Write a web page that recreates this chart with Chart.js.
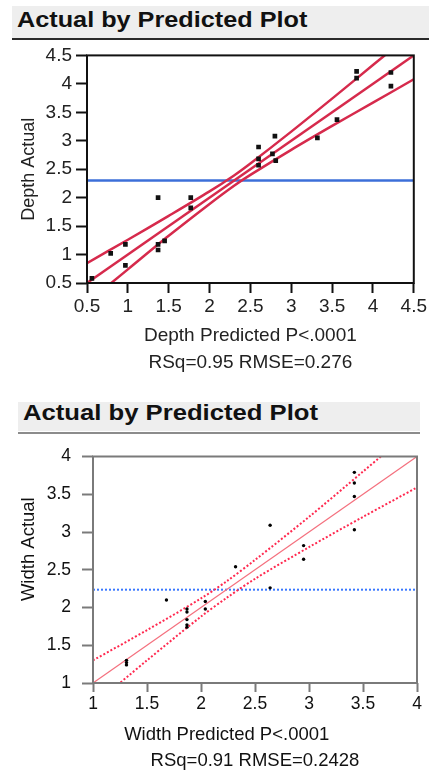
<!DOCTYPE html>
<html><head><meta charset="utf-8">
<script src="https://cdn.jsdelivr.net/npm/chart.js@4"></script>
<style>
html,body{margin:0;padding:0;background:#fff;width:429px;height:771px;overflow:hidden;position:relative;}
.bar{position:absolute;background:#eeeeee;}
.rule{position:absolute;}
.ttl{position:absolute;font-family:"Liberation Sans",Arial,sans-serif;font-weight:bold;color:#111;white-space:nowrap;transform-origin:0 50%;}
canvas{position:absolute;left:0;}
</style></head><body>
<div class="bar" style="left:12px;top:6px;width:417px;height:32px"></div>
<div class="rule" style="left:12px;top:38px;width:417px;height:2px;background:#2a2a2a"></div>
<div class="ttl" style="left:17px;top:9.8px;font-size:21.5px;line-height:21.5px;transform:scaleX(1.174)">Actual by Predicted Plot</div>
<canvas id="c1" width="429" height="345" style="top:40px"></canvas>

<div class="bar" style="left:18px;top:402px;width:402px;height:29px"></div>
<div class="rule" style="left:18px;top:432px;width:402px;height:2px;background:#8c8c8c"></div>
<div class="ttl" style="left:23px;top:402.4px;font-size:22px;line-height:22px;transform:scaleX(1.166)">Actual by Predicted Plot</div>
<canvas id="c2" width="429" height="339" style="top:435px"></canvas>

<script>
// ---------- Chart 1: Depth ----------
const depthPredicted = [0.56, 0.79, 0.97, 0.97, 1.37, 1.37, 1.37, 1.45, 1.77, 1.77, 2.60, 2.60, 2.60, 2.77, 2.80, 2.81, 3.32, 3.56, 3.80, 3.80, 4.22, 4.22];
const depthActual    = [0.58, 1.02, 1.18, 0.81, 2.00, 1.18, 1.08, 1.24, 2.00, 1.82, 2.89, 2.68, 2.57, 2.77, 3.08, 2.65, 3.05, 3.37, 4.22, 4.10, 4.20, 3.96];
const depthFitX = [0.5, 4.5];
const depthFitY = [0.5, 4.5];
const depthBandX = [0.5, 1, 1.5, 2, 2.3, 2.5, 3, 3.5, 4, 4.5];
const depthUpper = [0.85, 1.26, 1.68, 2.11, 2.39, 2.60, 3.16, 3.74, 4.33, 4.92];
const depthLower = [0.15, 0.74, 1.33, 1.89, 2.21, 2.40, 2.84, 3.26, 3.67, 4.08];
const depthMean = 2.30;
const depthTicks = ['0.5', '1', '1.5', '2', '2.5', '3', '3.5', '4', '4.5'];

// ---------- Chart 2: Width ----------
const widthPredicted = [1.31, 1.31, 1.31, 1.68, 1.87, 1.87, 1.87, 1.87, 1.87, 2.04, 2.04, 2.32, 2.64, 2.64, 2.95, 2.95, 3.42, 3.42, 3.42, 3.42];
const widthActual    = [1.30, 1.27, 1.24, 2.10, 1.98, 1.94, 1.84, 1.77, 1.74, 2.08, 1.98, 2.54, 3.09, 2.26, 2.82, 2.64, 3.79, 3.65, 3.47, 3.03];
const widthFitX = [1, 4];
const widthFitY = [1, 4];
const widthBandX = [1, 1.5, 2, 2.24, 2.5, 3, 3.5, 4];
const widthUpper = [1.30, 1.70, 2.12, 2.35, 2.63, 3.20, 3.80, 4.41];
const widthLower = [0.70, 1.30, 1.88, 2.13, 2.38, 2.80, 3.20, 3.59];
const widthMean = 2.236;
const widthTicks = ['1', '1.5', '2', '2.5', '3', '3.5', '4'];

const pts = (xs, ys) => xs.map((x, i) => ({x: x, y: ys[i]}));

const framePlugin = {
  id: 'frame',
  afterDraw(chart, args, opts) {
    const a = chart.chartArea, ctx = chart.ctx;
    ctx.save();
    ctx.strokeStyle = opts.color;
    ctx.lineWidth = opts.width;
    ctx.strokeRect(a.left, a.top, a.right - a.left, a.bottom - a.top);
    ctx.restore();
  }
};

function axis(cfg) {
  return {
    type: 'linear',
    min: cfg.min, max: cfg.max,
    afterFit: s => { if (cfg.w) s.width = cfg.w; if (cfg.h) s.height = cfg.h; },
    afterBuildTicks: s => { s.ticks = cfg.labels.map(v => ({value: parseFloat(v)})); },
    border: {display: false},
    grid: {drawOnChartArea: false, drawTicks: true, tickLength: cfg.tickLength, tickColor: cfg.color, tickWidth: 2},
    ticks: {
      autoSkip: false, maxRotation: 0, minRotation: 0,
      padding: cfg.pad, color: cfg.textColor,
      font: {family: '"Liberation Sans", Arial, sans-serif', size: cfg.fontSize},
      callback: v => cfg.labels.find(l => parseFloat(l) === v) || String(v)
    },
    title: {
      display: true, text: cfg.title, color: cfg.textColor,
      font: {family: '"Liberation Sans", Arial, sans-serif', size: cfg.titleSize, lineHeight: cfg.titleLH},
      padding: cfg.titlePad
    }
  };
}

new Chart(document.getElementById('c1'), {
  type: 'scatter',
  data: {
    datasets: [
      {data: pts(depthPredicted, depthActual), pointStyle: 'rect', pointRadius: 3.3, pointBackgroundColor: '#111', pointBorderWidth: 0, showLine: false, order: 0},
      {data: pts(depthFitX, depthFitY), showLine: true, borderColor: '#d62a4c', borderWidth: 2.5, pointRadius: 0, order: 2},
      {data: pts(depthBandX, depthUpper), showLine: true, borderColor: '#d62a4c', borderWidth: 2.5, pointRadius: 0, tension: 0.3, order: 2},
      {data: pts(depthBandX, depthLower), showLine: true, borderColor: '#d62a4c', borderWidth: 2.5, pointRadius: 0, tension: 0.3, order: 2},
      {data: pts(depthFitX, [depthMean, depthMean]), showLine: true, borderColor: '#3c6fd9', borderWidth: 2.5, pointRadius: 0, order: 3}
    ]
  },
  options: {
    responsive: false, animation: false, devicePixelRatio: 1,
    layout: {padding: {top: 12, right: 14, left: 0, bottom: 0}},
    plugins: {legend: {display: false}, tooltip: {enabled: false}, frame: {color: '#111', width: 2}},
    scales: {
      x: axis({min: 0.5, max: 4.5, labels: depthTicks, h: 102, tickLength: 10, pad: 2, color: '#111', textColor: '#222', fontSize: 19,
               title: ['Depth Predicted P<.0001', 'RSq=0.95 RMSE=0.276'], titleSize: 19, titleLH: 1.42, titlePad: {top: 0, bottom: 8.5}}),
      y: axis({min: 0.5, max: 4.5, labels: depthTicks, w: 87, tickLength: 11, pad: 4, color: '#111', textColor: '#222', fontSize: 19,
               title: 'Depth Actual', titleSize: 18, titleLH: 1.2, titlePad: {top: 18, bottom: 0}})
    }
  },
  plugins: [framePlugin]
});

new Chart(document.getElementById('c2'), {
  type: 'scatter',
  data: {
    datasets: [
      {data: pts(widthPredicted, widthActual), pointStyle: 'circle', pointRadius: 1.7, pointBackgroundColor: '#000', pointBorderWidth: 0, showLine: false, order: 0},
      {data: pts(widthFitX, widthFitY), showLine: true, borderColor: '#f4707e', borderWidth: 1.2, pointRadius: 0, order: 2},
      {data: pts(widthBandX, widthUpper), showLine: true, borderColor: '#ff2a50', borderWidth: 2, borderDash: [2, 2], pointRadius: 0, tension: 0.3, order: 2},
      {data: pts(widthBandX, widthLower), showLine: true, borderColor: '#ff2a50', borderWidth: 2, borderDash: [2, 2], pointRadius: 0, tension: 0.3, order: 2},
      {data: pts(widthFitX, [widthMean, widthMean]), showLine: true, borderColor: '#3a78ff', borderWidth: 2, borderDash: [2, 2], pointRadius: 0, order: 3}
    ]
  },
  options: {
    responsive: false, animation: false, devicePixelRatio: 1,
    layout: {padding: {top: 12, right: 12, left: 0, bottom: 0}},
    plugins: {legend: {display: false}, tooltip: {enabled: false}, frame: {color: '#7a7a7a', width: 2}},
    scales: {
      x: axis({min: 1, max: 4, labels: widthTicks, h: 91, tickLength: 9, pad: 2, color: '#7a7a7a', textColor: '#111', fontSize: 17.5,
               title: ['Width Predicted P<.0001           ', 'RSq=0.91 RMSE=0.2428'], titleSize: 18.5, titleLH: 1.4, titlePad: {top: 0, bottom: 0}}),
      y: axis({min: 1, max: 4, labels: widthTicks, w: 93, tickLength: 11, pad: 11, color: '#7a7a7a', textColor: '#111', fontSize: 17.5,
               title: '        Width Actual', titleSize: 18.5, titleLH: 1.2, titlePad: {top: 17.4, bottom: 0}})
    }
  },
  plugins: [framePlugin]
});
</script>
</body></html>
